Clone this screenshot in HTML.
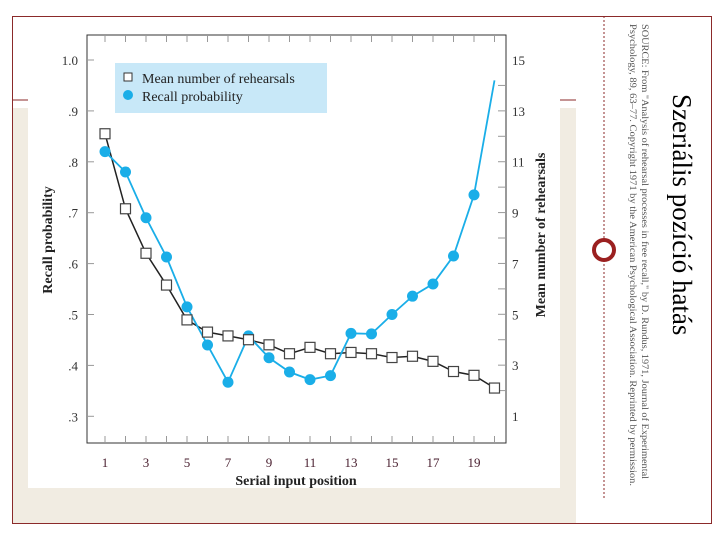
<!DOCTYPE html>
<html><head><meta charset="utf-8"><style>
html,body{margin:0;padding:0;background:#fff;}
#page{position:relative;width:720px;height:540px;overflow:hidden;background:#fff;font-family:"Liberation Serif",serif;}
</style></head><body>
<div id="page">
<svg width="720" height="540" style="position:absolute;left:0;top:0">
  <rect x="12" y="108" width="564" height="416" fill="#f1ece2"/>
  <rect x="28" y="22" width="532" height="466" fill="#fff"/>
  <rect x="12.5" y="16.5" width="699" height="507" fill="none" stroke="#8b2a2a" stroke-width="1"/>
  <line x1="12" y1="100" x2="28" y2="100" stroke="#8b2a2a"/>
  <line x1="560" y1="100" x2="576" y2="100" stroke="#8b2a2a"/>
  <line x1="604" y1="16" x2="604" y2="500" stroke="#8b2a2a" stroke-dasharray="2,2"/>
  <circle cx="604" cy="250" r="10" fill="#fff" stroke="#9b2020" stroke-width="4"/>
  <text transform="translate(673,94) rotate(90)" font-size="27" fill="#000" font-family="Liberation Serif, serif">Szeriális pozíció hatás</text>
  <text transform="translate(642,24) rotate(90)" font-size="9.8" fill="#555" textLength="455" lengthAdjust="spacingAndGlyphs">SOURCE: From "Analysis of rehearsal processes in free recall," by D. Rundus, 1971, Journal of Experimental</text>
  <text transform="translate(630,24) rotate(90)" font-size="9.8" fill="#555" textLength="462" lengthAdjust="spacingAndGlyphs">Psychology, 89, 63–77. Copyright 1971 by the American Psychological Association. Reprinted by permission.</text>
  <g id="chart"></g>
</svg>
</div>
<script>
const positions=[1,2,3,4,5,6,7,8,9,10,11,12,13,14,15,16,17,18,19,20];
const recall=[0.82,0.78,0.69,0.613,0.515,0.44,0.367,0.458,0.415,0.387,0.372,0.38,0.463,0.462,0.50,0.536,0.56,0.615,0.735,0.96];
const rehearsals=[12.1,9.15,7.4,6.15,4.78,4.3,4.15,4.0,3.8,3.45,3.7,3.45,3.5,3.45,3.3,3.35,3.15,2.75,2.6,2.1];
const leftTicks=[0.3,0.4,0.5,0.6,0.7,0.8,0.9,1.0];
const leftLabels=[".3",".4",".5",".6",".7",".8",".9","1.0"];
const rightTicks=[1,3,5,7,9,11,13,15];
const xTicks=[1,3,5,7,9,11,13,15,17,19];

const NS="http://www.w3.org/2000/svg";
const g=document.getElementById('chart');
const X=v=>105+(v-1)*20.5;
const YL=v=>60+(1.0-v)*509;
const YR=v=>60+(15-v)*25.43;
function mk(t,a,txt){const e=document.createElementNS(NS,t);for(const k in a)e.setAttribute(k,a[k]);if(txt!==undefined)e.textContent=txt;g.appendChild(e);return e;}

let e=mk('rect',{x:87,y:35,width:419,height:408,fill:'none',stroke:'#333','stroke-width':1});



positions.forEach(p=>{
  let t=mk('line',{x1:X(p),y1:35,x2:X(p),y2:42,stroke:'#999'});
  
  
  let b=mk('line',{x1:X(p),y1:436,x2:X(p),y2:443,stroke:'#999'});
  
  
});
xTicks.forEach(p=>{
  let t=mk('text',{x:X(p),y:467,'font-size':13,'text-anchor':'middle',fill:'#4a2030'},String(p));
  
  
});
leftTicks.forEach((v,i)=>{
  let t=mk('line',{x1:87,y1:YL(v),x2:94,y2:YL(v),stroke:'#999'});
  
  
  let l=mk('text',{x:78,y:YL(v)+5,'font-size':13,'text-anchor':'end',fill:'#333'},leftLabels[i]);
  
  
});
for(let v=2;v<=14;v++){
  let t=mk('line',{x1:498,y1:YR(v),x2:506,y2:YR(v),stroke:'#999'});
  
  
}
rightTicks.forEach(v=>{
  let l=mk('text',{x:512,y:YR(v)+5,'font-size':13,fill:'#333'},String(v));
  
  
});
e=mk('text',{x:296,y:485,'font-size':14,'text-anchor':'middle',fill:'#222','font-weight':'bold'},'Serial input position');


e=mk('text',{transform:'translate(52,240) rotate(-90)','font-size':14,'text-anchor':'middle',fill:'#222','font-weight':'bold'},'Recall probability');


e=mk('text',{transform:'translate(545,235) rotate(-90)','font-size':14,'text-anchor':'middle',fill:'#222','font-weight':'bold'},'Mean number of rehearsals');



e=mk('rect',{x:115,y:63,width:212,height:50,fill:'#c8e8f8'});


e=mk('rect',{x:124,y:73,width:8,height:8,fill:'#fff',stroke:'#333'});


e=mk('text',{x:142,y:83,'font-size':14,fill:'#222'},'Mean number of rehearsals');


e=mk('circle',{cx:128,cy:95,r:5,fill:'#1aaee8'});


e=mk('text',{x:142,y:101,'font-size':14,fill:'#222'},'Recall probability');



e=mk('polyline',{points:positions.map((p,i)=>X(p)+','+YR(rehearsals[i])).join(' '),fill:'none',stroke:'#222','stroke-width':1.5});


e=mk('polyline',{points:positions.map((p,i)=>X(p)+','+YL(recall[i])).join(' '),fill:'none',stroke:'#1aaee8','stroke-width':1.8});


positions.forEach((p,i)=>{
  if(i<positions.length-1){
    let c=mk('circle',{cx:X(p),cy:YL(recall[i]),r:5.5,fill:'#1aaee8'});
    
    
  }
});
positions.forEach((p,i)=>{
  let r=mk('rect',{x:X(p)-5,y:YR(rehearsals[i])-5,width:10,height:10,fill:'#fff',stroke:'#444','stroke-width':1.2});
  
  
});
</script>
</body></html>
